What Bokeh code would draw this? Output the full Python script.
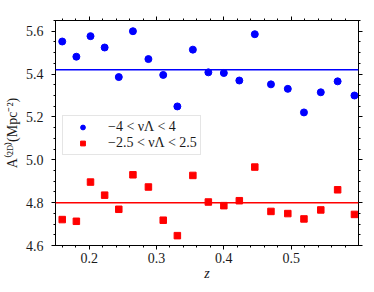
from bokeh.plotting import figure
from bokeh.models import (Range1d, LinearAxis, SingleIntervalTicker, Span,
                          Legend, LegendItem, Label, PrintfTickFormatter)
from bokeh.embed import file_html
from bokeh.resources import INLINE

# redshift bins
z = [0.160, 0.181, 0.202, 0.223, 0.244, 0.265, 0.288, 0.310, 0.331, 0.354,
     0.377, 0.400, 0.423, 0.446, 0.470, 0.495, 0.519, 0.544, 0.569, 0.594]
# A^(2D) in units of 1e-5 Mpc^-2
a_wide = [5.552, 5.481, 5.577, 5.524, 5.386, 5.600, 5.470, 5.396, 5.249, 5.514,
          5.408, 5.405, 5.370, 5.586, 5.352, 5.331, 5.221, 5.315, 5.366, 5.300]
a_narrow = [4.721, 4.713, 4.896, 4.835, 4.769, 4.930, 4.873, 4.718, 4.646, 4.927,
            4.803, 4.786, 4.809, 4.966, 4.759, 4.749, 4.724, 4.766, 4.860, 4.745]
mean_wide = 5.42
mean_narrow = 4.80

label_wide = "−4 < νΛ < 4"
label_narrow = "−2.5 < νΛ < 2.5"
x_label = "z"
y_label = "A⁽²ᴰ⁾(Mpc⁻²)"
scale_text = "×10⁻⁵"

FONT = "Liberation Serif"
BLUE = "#0000ff"
RED = "#ff0000"
TXT = "#1a1a1a"

p = figure(width=366, height=284, output_backend="svg", toolbar_location=None,
           x_range=Range1d(0.15, 0.6), y_range=Range1d(4.6, 5.65),
           min_border_left=55, min_border_right=8, min_border_top=20,
           min_border_bottom=39, x_axis_label=x_label, y_axis_label=y_label)
p.grid.visible = False
p.outline_line_color = "black"
p.outline_line_width = 1
p.background_fill_color = "white"
p.border_fill_color = "white"

xt = SingleIntervalTicker(interval=0.1, num_minor_ticks=5)
yt = SingleIntervalTicker(interval=0.2, num_minor_ticks=4)
p.xaxis.ticker = xt
p.yaxis.ticker = yt
p.xaxis.formatter = PrintfTickFormatter(format="%.1f")
p.yaxis.formatter = PrintfTickFormatter(format="%.1f")

for ax in (p.xaxis[0], p.yaxis[0]):
    ax.major_tick_in = 0
    ax.major_tick_out = 4
    ax.minor_tick_in = 0
    ax.minor_tick_out = 2
    ax.axis_line_color = "black"
    ax.major_tick_line_color = "black"
    ax.minor_tick_line_color = "black"
    ax.major_label_text_font = FONT
    ax.major_label_text_font_size = "14px"
    ax.major_label_text_color = TXT
    ax.axis_label_text_font = FONT
    ax.axis_label_text_font_size = "14px"
    ax.axis_label_text_font_style = "normal"
    ax.axis_label_text_color = TXT

p.xaxis.axis_label_text_font_style = "italic"
p.xaxis.major_label_standoff = 3
p.xaxis.axis_label_standoff = 0
p.yaxis.major_label_standoff = 8
p.yaxis.axis_label_standoff = 3

for loc, tk in (("above", xt), ("right", yt)):
    ax = LinearAxis(ticker=tk, major_label_text_font_size="1px",
                    major_label_text_color=None,
                    major_label_standoff=0, major_tick_in=0, major_tick_out=4,
                    minor_tick_in=0, minor_tick_out=2, axis_line_color="black")
    p.add_layout(ax, loc)

p.add_layout(Span(location=mean_wide, dimension="width", line_color=BLUE, line_width=1.5))
p.add_layout(Span(location=mean_narrow, dimension="width", line_color=RED, line_width=1.5))

r1 = p.scatter(z, a_wide, marker="circle", size=7, fill_color=BLUE, line_color=BLUE)
r2 = p.scatter(z, a_narrow, marker="square", size=6.5, fill_color=RED, line_color=RED)

legend = Legend(items=[LegendItem(label=label_wide, renderers=[r1]),
                       LegendItem(label=label_narrow, renderers=[r2])],
                location=(7, 90), padding=3, spacing=0, margin=0,
                glyph_width=33, glyph_height=12, label_height=12,
                label_standoff=9, label_text_font=FONT,
                label_text_font_size="14px", label_text_color=TXT,
                border_line_color="#cccccc", border_line_width=1,
                background_fill_color="white", background_fill_alpha=0.8)
p.add_layout(legend, "center")

p.add_layout(Label(x=0.15, y=5.65, text=scale_text, text_font=FONT,
                   text_font_size="14px", text_color=TXT,
                   text_baseline="bottom", text_align="left", y_offset=1))

open("out.html", "w").write(file_html(p, INLINE))
